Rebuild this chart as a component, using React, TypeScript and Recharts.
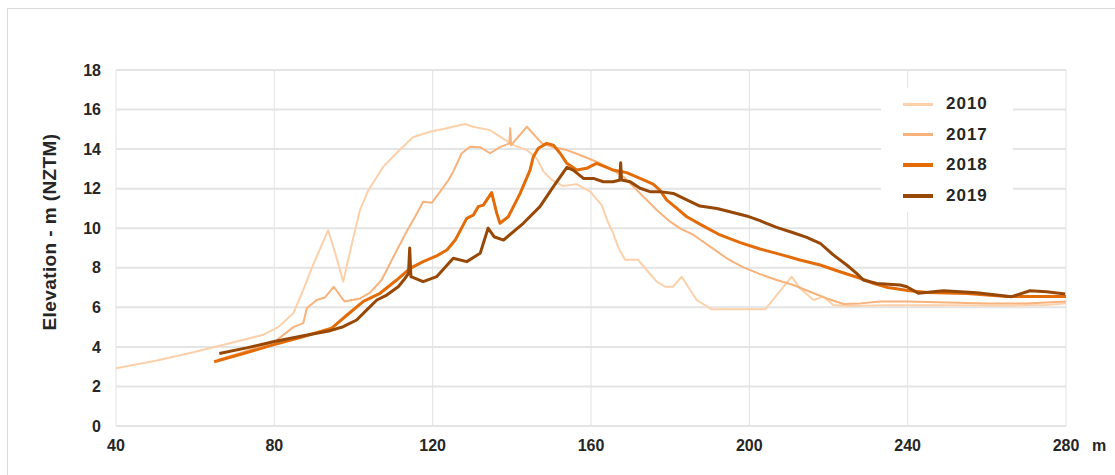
import { LineChart, Line, XAxis, YAxis, CartesianGrid } from "recharts";

const years = ["2010", "2017", "2018", "2019"];
const colors = ["#FCD0AA", "#F8B27C", "#E36C09", "#974806"];
const widths = [2, 2, 3, 3];

const xTicks = [40, 80, 120, 160, 200, 240, 280];
const yTicks = [0, 2, 4, 6, 8, 10, 12, 14, 16, 18];

const x2010 = [40, 50, 59, 69, 77, 81, 84.8, 87.3, 89.9, 93.6, 95.3, 97.4, 99.1, 101.6, 103.7, 105.4, 107.5, 110.9, 115, 119.3, 123.5, 128.2, 130.2, 134.5, 137, 140.4, 143.8, 146.3, 148, 150.1, 153, 156.4, 159.8, 162.7, 164.3, 165.6, 166.8, 168.6, 171.9, 174, 176.6, 178.7, 180.7, 182.9, 186.7, 190.5, 204, 210.7, 212.8, 216.2, 218.7, 221.2, 224.6, 235, 250, 265, 275, 280];
const y2010 = [2.92, 3.3, 3.7, 4.2, 4.6, 5.0, 5.7, 6.88, 8.2, 9.9, 8.8, 7.3, 8.8, 10.9, 11.9, 12.44, 13.1, 13.8, 14.6, 14.88, 15.05, 15.27, 15.13, 14.96, 14.63, 14.2, 13.95, 13.53, 12.86, 12.44, 12.13, 12.23, 11.85, 11.17, 10.3, 9.75, 9.07, 8.4, 8.4, 7.9, 7.3, 7.04, 7.04, 7.55, 6.37, 5.9, 5.9, 7.55, 6.96, 6.37, 6.54, 6.12, 6.07, 6.1, 6.1, 6.08, 6.12, 6.2];

const x2017 = [66, 73, 80, 84.8, 87.3, 88.2, 90.7, 92.8, 95, 97.7, 101.7, 104.2, 107.1, 110.1, 113.4, 116, 117.6, 119.8, 121.9, 124, 125.2, 127.3, 129.4, 132, 134.5, 137, 139.4, 139.6, 139.8, 143.8, 147.6, 150.5, 153.9, 157.2, 161.4, 165.6, 168.2, 172.4, 176.6, 180, 182.5, 185.9, 190.1, 194.3, 198.5, 202.7, 206.9, 211.1, 215.3, 219.6, 223.8, 228, 233, 240, 250, 260, 270, 280];
const y2017 = [3.35, 3.8, 4.25, 5.0, 5.2, 5.95, 6.37, 6.5, 7.04, 6.3, 6.45, 6.75, 7.38, 8.56, 9.82, 10.75, 11.34, 11.29, 11.85, 12.44, 12.86, 13.78, 14.12, 14.1, 13.79, 14.1, 14.29, 15.05, 14.2, 15.13, 14.29, 14.09, 13.95, 13.7, 13.36, 12.94, 12.6, 11.76, 10.92, 10.33, 9.99, 9.66, 9.07, 8.48, 8.02, 7.68, 7.38, 7.13, 6.79, 6.45, 6.17, 6.2, 6.3, 6.3, 6.25, 6.2, 6.2, 6.3];

const x2018 = [64.8, 72, 79.7, 87, 94.5, 98.3, 102.5, 106.7, 110.9, 114.3, 117.6, 121, 123.6, 125.7, 128.6, 130.3, 131.5, 132.8, 134.9, 136.2, 137, 139.1, 142.1, 144.6, 145.4, 146.7, 148.8, 150.5, 152.2, 153.9, 156.4, 158.9, 161.4, 163.5, 165.6, 169, 172.4, 175.7, 177.4, 179.1, 181.7, 184.2, 187.5, 192.6, 197.7, 202.7, 207.8, 212.8, 217.9, 222.9, 228, 231.3, 235, 240, 245, 255, 265, 272, 280];
const y2018 = [3.25, 3.65, 4.1, 4.5, 4.95, 5.6, 6.3, 6.71, 7.38, 7.97, 8.31, 8.6, 8.9, 9.4, 10.5, 10.67, 11.09, 11.17, 11.8, 10.75, 10.25, 10.58, 11.76, 12.94, 13.6, 14.04, 14.29, 14.2, 13.79, 13.28, 12.94, 13.03, 13.28, 13.11, 12.94, 12.81, 12.52, 12.23, 11.93, 11.43, 11.0, 10.58, 10.21, 9.66, 9.27, 8.95, 8.68, 8.39, 8.14, 7.8, 7.47, 7.21, 7.0, 6.85, 6.75, 6.7, 6.55, 6.55, 6.55];

const x2019 = [66.1, 73, 79.7, 87, 94.1, 97.4, 100.8, 103.3, 105.9, 108.4, 111.3, 113, 113.9, 114.2, 114.5, 117.6, 121, 125.2, 128.6, 132, 134, 135.5, 137.9, 142.9, 147.1, 150.5, 153.9, 155.5, 158.1, 160.6, 163.1, 165.6, 167.3, 167.5, 167.7, 169.9, 172.4, 174.9, 177.4, 180.8, 184.2, 187.5, 191.8, 195.1, 199.3, 202.7, 206.9, 211.1, 214.5, 217.9, 221.2, 224.6, 227.1, 228.8, 232.2, 238.1, 239.8, 242.7, 249, 257.5, 266.3, 270.9, 275.1, 279.8];
const y2019 = [3.67, 3.95, 4.26, 4.55, 4.82, 5.02, 5.36, 5.86, 6.37, 6.62, 7.04, 7.46, 7.72, 9.0, 7.55, 7.3, 7.55, 8.48, 8.31, 8.73, 10.0, 9.57, 9.4, 10.25, 11.09, 12.1, 13.08, 12.94, 12.52, 12.52, 12.35, 12.35, 12.44, 13.31, 12.44, 12.35, 12.02, 11.85, 11.85, 11.76, 11.43, 11.12, 11.0, 10.83, 10.62, 10.38, 10.04, 9.77, 9.54, 9.24, 8.65, 8.14, 7.72, 7.38, 7.21, 7.13, 7.04, 6.71, 6.84, 6.74, 6.54, 6.84, 6.79, 6.67];

const toPoints = (xs: number[], ys: number[]) => xs.map((x, i) => ({ x, y: ys[i] }));
const seriesData = [toPoints(x2010, y2010), toPoints(x2017, y2017), toPoints(x2018, y2018), toPoints(x2019, y2019)];

const FONT = "'Liberation Sans', Arial, sans-serif";
const tickStyle = { fill: "#262626", fontSize: 16, fontWeight: 700, fontFamily: FONT };

export default function App() {
  return (
    <div style={{ position: "relative", width: 1115, height: 475, overflow: "hidden", background: "#fff", fontFamily: FONT }}>
      <style>{`body{margin:0}`}</style>
      <div style={{ position: "absolute", left: 7, top: 8, width: 1130, height: 490, border: "1px solid #d9d9d9" }} />
      <LineChart
        width={1115}
        height={475}
        margin={{ top: 70, right: 49, left: 56, bottom: 19 }}
        style={{ position: "absolute", left: 0, top: 0 }}
      >
        <CartesianGrid vertical={false} stroke="#e4e4e4" strokeWidth={2} />
        <CartesianGrid horizontal={false} stroke="#e2e2e2" strokeWidth={1} />
        <XAxis
          type="number"
          dataKey="x"
          domain={[40, 280]}
          ticks={xTicks}
          allowDuplicatedCategory={false}
          axisLine={false}
          tickLine={false}
          tickMargin={8}
          height={30}
          tick={tickStyle}
          interval={0}
        />
        <YAxis
          type="number"
          dataKey="y"
          domain={[0, 18]}
          ticks={yTicks}
          axisLine={false}
          tickLine={false}
          tickMargin={9}
          width={60}
          tick={tickStyle}
          interval={0}
        />
        {years.map((yr, i) => (
          <Line
            key={yr}
            data={seriesData[i]}
            dataKey="y"
            name={yr}
            type="linear"
            stroke={colors[i]}
            strokeWidth={widths[i]}
            strokeLinejoin="round"
            dot={false}
            activeDot={false}
            isAnimationActive={false}
          />
        ))}
      </LineChart>
      <div
        style={{
          position: "absolute",
          left: 50,
          top: 232,
          transform: "translate(-50%, -50%) rotate(-90deg)",
          whiteSpace: "nowrap",
          fontSize: 19,
          fontWeight: 700,
          letterSpacing: 0.4,
          color: "#262626",
        }}
      >
        Elevation - m (NZTM)
      </div>
      <div style={{ position: "absolute", left: 1092, top: 437, fontSize: 16, fontWeight: 700, color: "#262626" }}>m</div>
      <div style={{ position: "absolute", left: 881, top: 88, width: 132, height: 124, background: "#fff" }}>
        {years.map((yr, i) => (
          <div key={yr} style={{ position: "absolute", left: 0, top: 16 + i * 30.7 - 12, height: 24, width: 132 }}>
            <div
              style={{
                position: "absolute",
                left: 22,
                top: 12 - widths[i] / 2 - 0.5,
                width: 30,
                height: widths[i] + 1,
                background: colors[i],
              }}
            />
            <div
              style={{
                position: "absolute",
                left: 65,
                top: 2,
                fontSize: 17,
                lineHeight: "20px",
                fontWeight: 700,
                letterSpacing: 1,
                color: "#262626",
              }}
            >
              {yr}
            </div>
          </div>
        ))}
      </div>
    </div>
  );
}
